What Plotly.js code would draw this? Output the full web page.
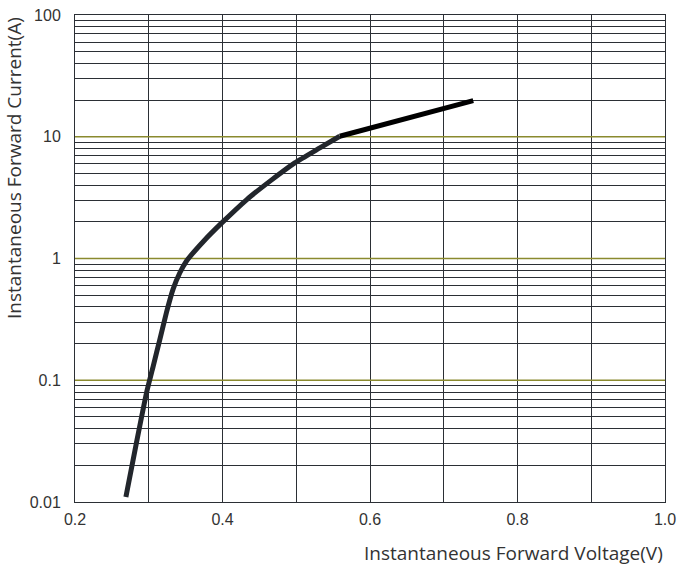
<!DOCTYPE html>
<html>
<head>
<meta charset="utf-8">
<script src="https://cdn.plot.ly/plotly-3.0.1.min.js"></script>
<style>html,body{margin:0;padding:0;background:#fff;}#chart{width:678px;height:569px;}</style>
</head>
<body>
<div id="chart"></div>
<script>
// Curve (forward characteristic)
var curveV = [0.269, 0.283, 0.297, 0.306, 0.315, 0.324, 0.333, 0.342, 0.351, 0.375, 0.399, 0.433, 0.464, 0.498, 0.532, 0.559];
var curveI = [0.011, 0.030, 0.079, 0.13, 0.216, 0.36, 0.56, 0.76, 0.95, 1.40, 1.96, 3.05, 4.3, 6.1, 8.1, 10.1];
// Final straight segment
var tailV = [0.559, 0.740];
var tailI = [10.1, 19.8];

// Axis ticks
var xRange = [0.2, 1.0];
var xTickVals = [0.2, 0.3, 0.4, 0.5, 0.6, 0.7, 0.8, 0.9, 1.0];
var xTickText = ['0.2', '', '0.4', '', '0.6', '', '0.8', '', '1.0'];
var yDecades = [0.01, 0.1, 1, 10, 100];
var yDecadeText = ['0.01', '0.1', '1', '10', '100'];
var yMinor = [2, 3, 4, 5, 6, 7, 8, 9];
var oliveLines = [0.1, 1, 10];
var xTitle = 'Instantaneous Forward Voltage(V)';
var yTitle = 'Instantaneous Forward Current(A)';

var yTickVals = [], yTickText = [];
for (var d = 0; d < yDecades.length; d++) {
  yTickVals.push(yDecades[d]); yTickText.push(yDecadeText[d]);
  if (d < yDecades.length - 1) {
    for (var m = 0; m < yMinor.length; m++) {
      yTickVals.push(+(yDecades[d] * yMinor[m]).toPrecision(3)); yTickText.push('');
    }
  }
}

var traces = oliveLines.map(function (v) {
  return {x: xRange, y: [v, v], mode: 'lines', line: {color: '#8a8a2e', width: 1.5}, hoverinfo: 'skip', cliponaxis: true};
});
traces.push({x: curveV, y: curveI, mode: 'lines', line: {color: '#22262c', width: 5, shape: 'spline', smoothing: 0.5}, hoverinfo: 'skip'});
traces.push({x: tailV, y: tailI, mode: 'lines', line: {color: '#000000', width: 5}, hoverinfo: 'skip'});

var plotW = 678 - 75 - 13, plotH = 569 - 15 - 67;

var layout = {
  width: 678, height: 569,
  margin: {l: 75, r: 13, t: 15, b: 67},
  paper_bgcolor: '#ffffff', plot_bgcolor: '#ffffff',
  showlegend: false,
  xaxis: {
    range: xRange, tickvals: xTickVals, ticktext: xTickText,
    showgrid: true, gridcolor: '#2b2f35', gridwidth: 1,
    zeroline: false, showline: true, linecolor: '#2b2f35', linewidth: 1, mirror: true,
    ticks: '', ticklen: 0, ticklabelstandoff: 3,
    tickfont: {family: 'Liberation Sans, Arial, sans-serif', size: 16, color: '#333'}
  },
  yaxis: {
    type: 'log', range: [-2, 2], tickvals: yTickVals, ticktext: yTickText,
    showgrid: true, gridcolor: '#2b2f35', gridwidth: 1,
    zeroline: false, showline: true, linecolor: '#2b2f35', linewidth: 1, mirror: true,
    ticks: '', ticklen: 0, ticklabelstandoff: 10,
    tickfont: {family: 'Liberation Sans, Arial, sans-serif', size: 16, color: '#333'}
  },
  annotations: [
    {
      text: xTitle, xref: 'paper', yref: 'paper', x: 1, y: -(553 - 502) / plotH,
      xanchor: 'right', yanchor: 'middle', showarrow: false,
      font: {family: 'Open Sans, sans-serif', size: 19, color: '#333'}
    },
    {
      text: yTitle, xref: 'paper', yref: 'paper', x: -(75 - 14) / plotW, y: 1,
      xanchor: 'center', yanchor: 'top', textangle: -90, showarrow: false,
      font: {family: 'Open Sans, sans-serif', size: 19, color: '#333'}
    }
  ]
};

Plotly.newPlot('chart', traces, layout, {staticPlot: true, displayModeBar: false});
</script>
</body>
</html>
